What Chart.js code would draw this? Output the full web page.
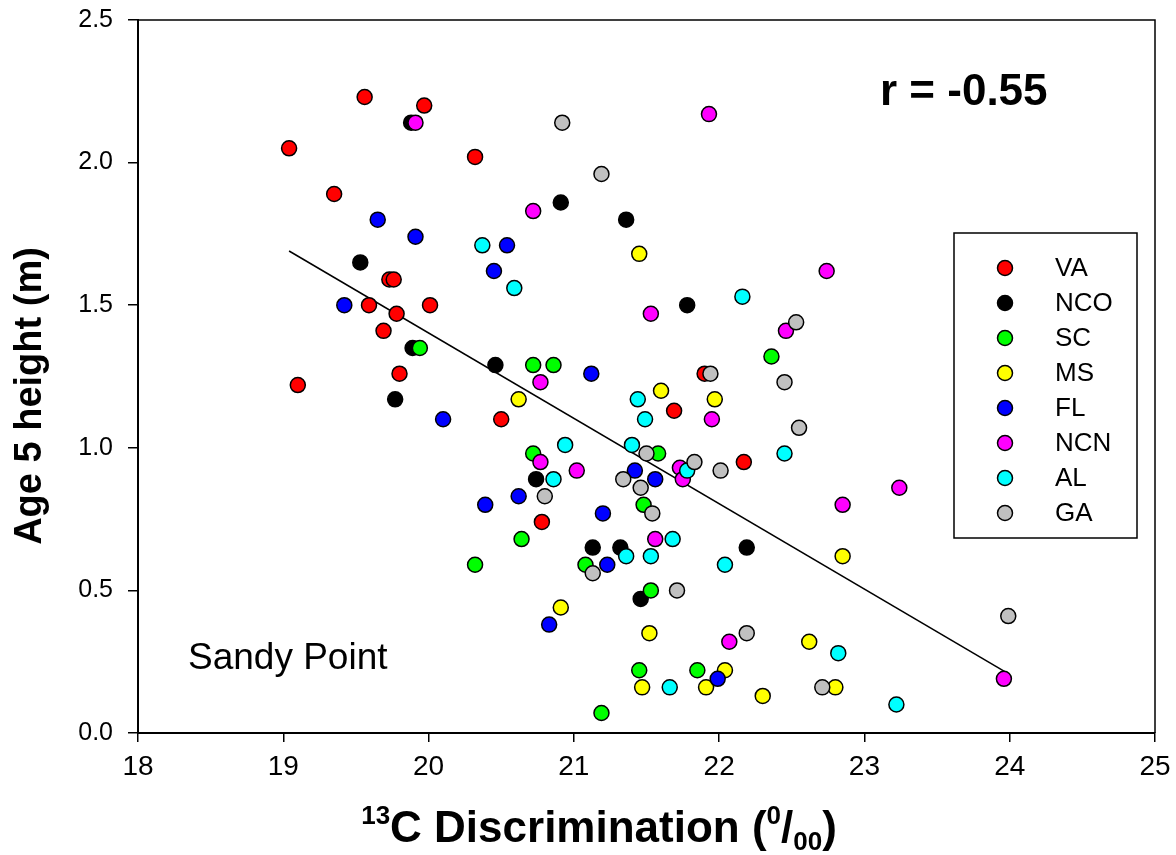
<!DOCTYPE html>
<html>
<head>
<meta charset="utf-8">
<script src="https://cdn.jsdelivr.net/npm/chart.js@4.4.1/dist/chart.umd.min.js"></script>
<style>
  html, body { margin: 0; padding: 0; background: #ffffff; }
  #wrap { width: 1176px; height: 855px; position: relative; }
</style>
</head>
<body>
<div id="wrap"><canvas id="c" width="1176" height="855"></canvas></div>
<script>
// ---- data ----
const seriesNames = ["VA", "NCO", "SC", "MS", "FL", "NCN", "AL", "GA"];
const seriesColors = ["#ff0000", "#000000", "#00ff00", "#ffff00", "#0000ff", "#ff00ff", "#00ffff", "#c0c0c0"];

const vaX = [19.04, 19.56, 19.97, 19.35, 20.32, 19.73, 19.76, 19.59, 19.78, 20.01, 19.69, 19.10, 19.80, 20.50, 20.78, 21.69, 21.90, 22.17];
const vaY = [2.05, 2.23, 2.20, 1.89, 2.02, 1.59, 1.59, 1.50, 1.47, 1.50, 1.41, 1.22, 1.26, 1.10, 0.74, 1.13, 1.26, 0.95];

const ncoX = [19.88, 19.53, 19.89, 20.91, 21.36, 21.78, 20.46, 19.77, 20.74, 21.13, 21.32, 21.46, 22.19];
const ncoY = [2.14, 1.65, 1.35, 1.86, 1.80, 1.50, 1.29, 1.17, 0.89, 0.65, 0.65, 0.47, 0.65];

const scX = [19.94, 20.72, 20.86, 20.72, 20.64, 20.32, 22.36, 21.58, 21.48, 21.08, 21.53, 21.45, 21.85, 21.19];
const scY = [1.35, 1.29, 1.29, 0.98, 0.68, 0.59, 1.32, 0.98, 0.80, 0.59, 0.50, 0.22, 0.22, 0.07];

const msX = [21.45, 20.62, 21.60, 21.97, 20.91, 21.52, 22.04, 21.47, 21.91, 22.30, 22.85, 22.62, 22.80];
const msY = [1.68, 1.17, 1.20, 1.17, 0.44, 0.35, 0.22, 0.16, 0.16, 0.13, 0.62, 0.32, 0.16];

const flX = [19.65, 19.91, 19.42, 20.54, 20.45, 20.10, 20.39, 20.62, 20.83, 21.12, 21.42, 21.56, 21.20, 21.23, 21.99];
const flY = [1.80, 1.74, 1.50, 1.71, 1.62, 1.10, 0.80, 0.83, 0.38, 1.26, 0.92, 0.89, 0.77, 0.59, 0.19];

const ncnX = [19.91, 20.72, 21.93, 21.53, 20.77, 20.77, 21.02, 21.95, 21.73, 21.75, 21.56, 22.07, 22.74, 22.46, 23.24, 22.85, 23.96];
const ncnY = [2.14, 1.83, 2.17, 1.47, 1.23, 0.95, 0.92, 1.10, 0.93, 0.89, 0.68, 0.32, 1.62, 1.41, 0.86, 0.80, 0.19];

const alX = [20.37, 20.59, 22.16, 20.86, 20.94, 21.44, 21.49, 21.40, 21.78, 21.68, 21.36, 21.53, 22.04, 21.66, 22.45, 22.82, 23.22];
const alY = [1.71, 1.56, 1.53, 0.89, 1.01, 1.17, 1.10, 1.01, 0.92, 0.68, 0.62, 0.62, 0.59, 0.16, 0.98, 0.28, 0.10];

const gaX = [20.92, 21.19, 20.80, 21.94, 21.50, 21.34, 21.46, 21.54, 21.83, 22.01, 21.13, 21.71, 22.19, 22.53, 22.45, 22.55, 22.71, 23.99];
const gaY = [2.14, 1.96, 0.83, 1.26, 0.98, 0.89, 0.86, 0.77, 0.95, 0.92, 0.56, 0.50, 0.35, 1.44, 1.23, 1.07, 0.16, 0.41];

// regression line end values
const fitX = [19.04, 23.99];
const fitY = [1.690, 0.208];

const xTicks = [18, 19, 20, 21, 22, 23, 24, 25];
const yTicks = [0.0, 0.5, 1.0, 1.5, 2.0, 2.5];

const yTitle = "Age 5 height (m)";
const rText = "r = -0.55";
const siteText = "Sandy Point";

// ---- build ----
const seriesX = [vaX, ncoX, scX, msX, flX, ncnX, alX, gaX];
const seriesY = [vaY, ncoY, scY, msY, flY, ncnY, alY, gaY];
const zip = (xs, ys) => xs.map((x, i) => ({ x: x, y: ys[i] }));

const datasets = seriesNames.map((name, i) => ({
  type: 'scatter',
  label: name,
  data: zip(seriesX[i], seriesY[i]),
  backgroundColor: seriesColors[i],
  borderColor: '#000000',
  borderWidth: 1.5,
  pointRadius: 7.5,
  pointHoverRadius: 7.5,
  order: seriesNames.length - i
}));
datasets.push({
  type: 'line',
  label: 'fit',
  data: zip(fitX, fitY),
  borderColor: '#000000',
  borderWidth: 1.5,
  pointRadius: 0,
  fill: false,
  order: 100
});

const FONT = "'Liberation Sans', Arial, sans-serif";
const NARROW = "'Liberation Sans Narrow', 'Arial Narrow', 'Liberation Sans', sans-serif";

const decor = {
  id: 'decor',
  beforeDatasetsDraw(chart) {
    const { ctx, chartArea: a } = chart;
    ctx.save();
    ctx.strokeStyle = '#000';
    ctx.lineWidth = 1.5;
    ctx.beginPath();
    ctx.moveTo(a.left, a.top);
    ctx.lineTo(a.right, a.top);
    ctx.lineTo(a.right, a.bottom);
    ctx.stroke();
    ctx.restore();
  },
  afterDraw(chart) {
    const { ctx } = chart;
    ctx.save();
    ctx.fillStyle = '#000';

    // y title
    ctx.save();
    ctx.translate(31, 396);
    ctx.rotate(-Math.PI / 2);
    ctx.font = "bold 38px " + FONT;
    ctx.textAlign = 'center';
    ctx.textBaseline = 'middle';
    ctx.fillText(yTitle, 0, 0);
    ctx.restore();

    // x title with super/subscripts
    const big = "bold 44px " + NARROW;
    const small = "bold 26px " + NARROW;
    const parts = [
      { t: "13", f: small, dy: -18 },
      { t: "C Discrimination (", f: big, dy: 0 },
      { t: "0", f: small, dy: -18 },
      { t: "/", f: big, dy: 0 },
      { t: "00", f: small, dy: 8 },
      { t: ")", f: big, dy: 0 }
    ];
    let total = 0;
    parts.forEach(p => { ctx.font = p.f; p.w = ctx.measureText(p.t).width; total += p.w; });
    let x = 599 - total / 2;
    const base = 842;
    ctx.textAlign = 'left';
    ctx.textBaseline = 'alphabetic';
    parts.forEach(p => { ctx.font = p.f; ctx.fillText(p.t, x, base + p.dy); x += p.w; });

    // r annotation
    ctx.font = "bold 44px " + FONT;
    ctx.fillText(rText, 880, 105);

    // site label
    ctx.font = "37px " + FONT;
    ctx.fillText(siteText, 188, 669);

    // legend
    ctx.lineWidth = 1.5;
    ctx.strokeStyle = '#000';
    ctx.strokeRect(954, 233, 183, 305);
    ctx.font = "26px " + FONT;
    ctx.textBaseline = 'middle';
    seriesNames.forEach((n, i) => {
      const yy = 268 + 35 * i;
      ctx.beginPath();
      ctx.arc(1005, yy, 7.5, 0, Math.PI * 2);
      ctx.fillStyle = seriesColors[i];
      ctx.fill();
      ctx.stroke();
      ctx.fillStyle = '#000';
      ctx.fillText(n, 1055, yy + 1);
    });
    ctx.restore();
  }
};

new Chart(document.getElementById('c'), {
  data: { datasets: datasets },
  options: {
    responsive: false,
    animation: false,
    layout: { padding: { top: 20, right: 21, left: 0, bottom: 0 } },
    plugins: { legend: { display: false }, tooltip: { enabled: false } },
    scales: {
      x: {
        type: 'linear',
        min: xTicks[0],
        max: xTicks[xTicks.length - 1],
        afterBuildTicks: s => { s.ticks = xTicks.map(v => ({ value: v })); },
        afterFit: s => { s.height = 122; s.paddingLeft = 0; s.paddingRight = 0; },
        ticks: { color: '#000', font: { family: NARROW, size: 28 }, padding: 8, callback: v => String(v) },
        grid: { drawOnChartArea: false, drawTicks: true, tickLength: 9, color: '#000', lineWidth: 1.5 },
        border: { display: true, color: '#000', width: 2 }
      },
      y: {
        type: 'linear',
        min: yTicks[0],
        max: yTicks[yTicks.length - 1],
        afterBuildTicks: s => { s.ticks = yTicks.map(v => ({ value: v })); },
        afterFit: s => { s.width = 138; s.paddingTop = 0; s.paddingBottom = 0; },
        ticks: { color: '#000', font: { family: FONT, size: 25 }, padding: 15, callback: v => Number(v).toFixed(1) },
        grid: { drawOnChartArea: false, drawTicks: true, tickLength: 10, color: '#000', lineWidth: 1.5 },
        border: { display: true, color: '#000', width: 2 }
      }
    }
  },
  plugins: [decor]
});
</script>
</body>
</html>
